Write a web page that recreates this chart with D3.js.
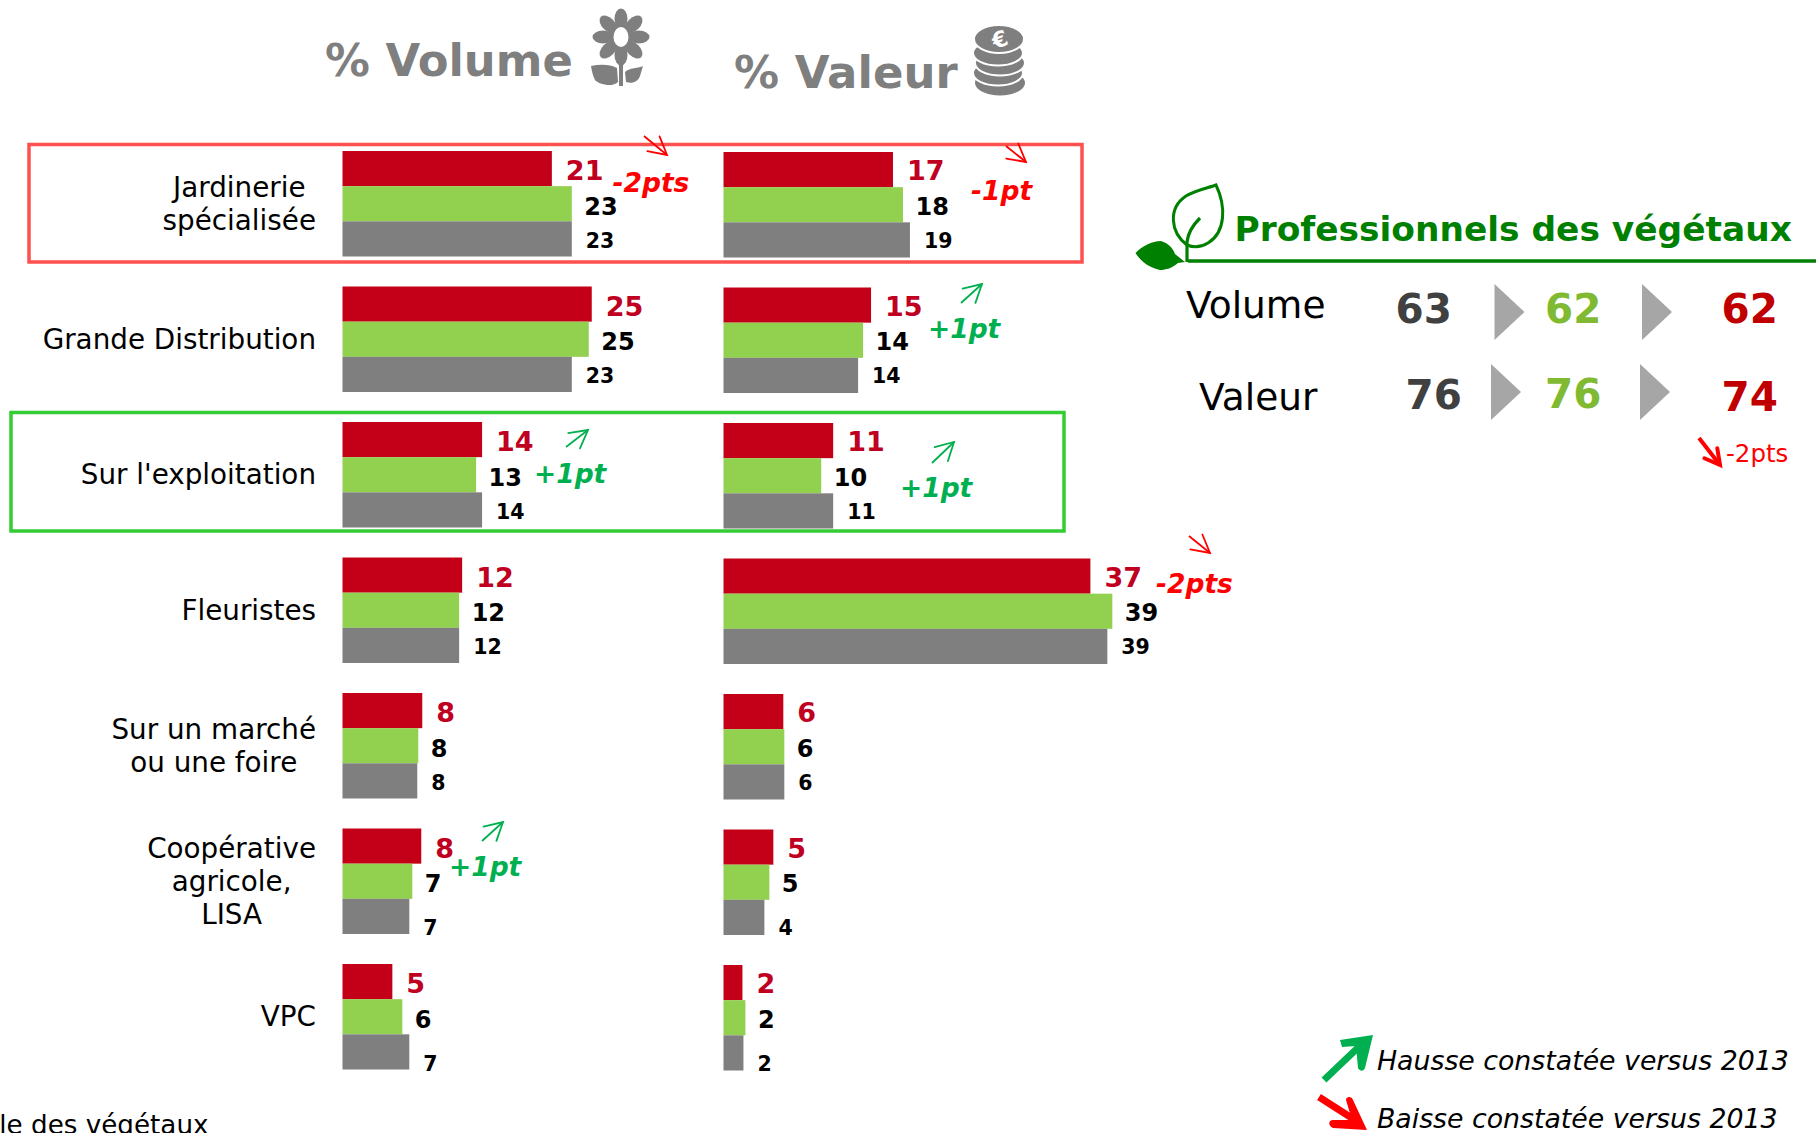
<!DOCTYPE html>
<html><head><meta charset="utf-8">
<style>html,body{margin:0;padding:0;background:#fff;overflow:hidden}svg{display:block;font-family:"DejaVu Sans",sans-serif}</style>
<script src="https://cdn.jsdelivr.net/npm/d3@7/dist/d3.min.js"></script></head>
<body><svg id="c" width="1816" height="1133"></svg>
<script>
// ---- data ----
const categories = ["Jardinerie\nspécialisée","Grande Distribution","Sur l'exploitation","Fleuristes","Sur un marché\nou une foire","Coopérative\nagricole,\nLISA","VPC"];
const seriesKeys = ["2015","2014","2013"];
const volume2015 = [21,25,14,12,8,7.9,5];
const volume2014 = [23,24.7,13.4,11.7,7.6,7,6];
const volume2013 = [23,23,14,11.7,7.5,6.7,6.7];
const valeur2015 = [17,14.8,11,36.8,6,5,1.9];
const valeur2014 = [18,14,9.8,39,6.1,4.6,2.2];
const valeur2013 = [18.7,13.5,11,38.5,6.1,4.1,2];
const panelRows = ["Volume","Valeur"];
const panelVolume = [63,62,62];
const panelValeur = [76,76,74];
const legendLabels = ["Hausse constatée versus 2013","Baisse constatée versus 2013"];

// ---- layout & style ----
const RED="#c30017", GREEN="#92d050", GREY="#7f7f7f", UP="#00b050", DOWN="#ff0000";
const svg=d3.select("#c");
const rowY=d3.scaleBand().domain(categories).range([151,151+6*135.5+105.5]).paddingInner(1-105.5/135.5).paddingOuter(0).align(0);
const serY=d3.scaleBand().domain(seriesKeys).range([0,rowY.bandwidth()]);
const len=d3.scaleLinear().domain([0,10]).range([0,99.7]);
const barColor=d3.scaleOrdinal(seriesKeys,[RED,GREEN,GREY]);
const labelColor=d3.scaleOrdinal(seriesKeys,["#c00020","#000","#000"]);
const labelSize=d3.scaleOrdinal(seriesKeys,[27,24,20.5]);
const labelGap=d3.scaleOrdinal(seriesKeys,[14,12.5,14]);
const labelBase=d3.scaleOrdinal(seriesKeys,[29,63.5,96.5]);
const greyNudge=[0,0,0,0,0,10,10];

function drawColumn(x0,dy,labelDy,series){
  const g=svg.append("g").attr("transform",`translate(${x0},0)`);
  const rows=categories.map((c,i)=>seriesKeys.map((s,k)=>({c,i,s,v:series[k][i]}))).flat();
  g.selectAll("rect").data(rows).join("rect")
    .attr("x",0).attr("y",d=>rowY(d.c)+serY(d.s)+dy)
    .attr("width",d=>len(d.v)).attr("height",serY.bandwidth()).attr("fill",d=>barColor(d.s));
  g.selectAll("text").data(rows).join("text")
    .attr("x",d=>len(d.v)+labelGap(d.s))
    .attr("y",d=>rowY(d.c)+labelBase(d.s)+labelDy+(d.s==="2013"?greyNudge[d.i]:0))
    .attr("font-weight","bold").attr("font-size",d=>labelSize(d.s)).attr("fill",d=>labelColor(d.s))
    .text(d=>Math.round(d.v));
}
drawColumn(342.5,0,0,[volume2015,volume2014,volume2013]);
drawColumn(723.5,1,0.3,[valeur2015,valeur2014,valeur2013]);

// category labels: lines centred, block right-aligned
categories.forEach(c=>{
  const lines=c.split("\n");
  const mid=rowY(c)+rowY.bandwidth()/2+9.5;
  const t=svg.append("g");
  const sel=t.selectAll("text").data(lines).join("text")
    .attr("font-size",27.8).attr("fill","#000").attr("text-anchor","middle")
    .attr("y",(d,i)=>mid+(i-(lines.length-1)/2)*33).text(d=>d);
  const w=d3.max(sel.nodes(),n=>n.getComputedTextLength());
  sel.attr("x",316-w/2);
});

// highlight boxes
svg.append("rect").attr("x",29).attr("y",144.5).attr("width",1053).attr("height",117.5).attr("fill","none").attr("stroke","#ff5050").attr("stroke-width",3.5);
svg.append("rect").attr("x",11).attr("y",412.5).attr("width",1053).attr("height",118.5).attr("fill","none").attr("stroke","#33cc33").attr("stroke-width",3.5);

function arrow(x1,y1,x2,y2,color,w,head){
  const a=Math.atan2(y2-y1,x2-x1),sp=0.5;
  const p=[[x2-head*Math.cos(a-sp),y2-head*Math.sin(a-sp)],[x2,y2],[x2-head*Math.cos(a+sp),y2-head*Math.sin(a+sp)]];
  svg.append("path").attr("d",`M${x1},${y1}L${x2},${y2}`).attr("stroke",color).attr("stroke-width",w).attr("fill","none");
  svg.append("path").attr("d",d3.line()(p)).attr("stroke",color).attr("stroke-width",w).attr("fill","none").attr("stroke-linejoin","miter").attr("stroke-linecap","round");
}
// change annotations
const deltas=[
 ["-2pts",612.5,192,DOWN,[644,136,667,155]],
 ["-1pt",971,200,DOWN,[1006,146,1026,162]],
 ["+1pt",928,338,UP,[961,303,982,284]],
 ["+1pt",534,483,UP,[566,447,588,430]],
 ["+1pt",900,497,UP,[932,463,954,442]],
 ["-2pts",1156,593,DOWN,[1189,536,1210,553]],
 ["+1pt",449,876,UP,[482,841,503,822]]
];
deltas.forEach(([t,x,y,col,a])=>{
  svg.append("text").attr("x",x).attr("y",y).attr("font-size",26.5).attr("font-weight","bold").attr("font-style","italic").attr("fill",col).text(t);
  arrow(a[0],a[1],a[2],a[3],col,1.8,20);
});

// column headings
svg.append("text").attr("x",325).attr("y",76).attr("font-size",44.8).attr("font-weight","bold").attr("fill",GREY).text("% Volume");
svg.append("text").attr("x",734).attr("y",88).attr("font-size",45).attr("font-weight","bold").attr("fill",GREY).text("% Valeur");

// flower icon
const fl=svg.append("g").attr("fill",GREY);
d3.range(8).forEach(i=>fl.append("ellipse").attr("cx",621).attr("cy",19).attr("rx",6.5).attr("ry",10.5).attr("transform",`rotate(${i*45} 621 37)`));
fl.append("circle").attr("cx",621).attr("cy",37).attr("r",12);
fl.append("ellipse").attr("cx",621).attr("cy",37).attr("rx",7.5).attr("ry",10).attr("fill","#fff");
fl.append("rect").attr("x",619).attr("y",50).attr("width",4).attr("height",36);
fl.append("path").attr("d","M591,66C600,64 610,64 617,68L618,82C612,88 598,84 595,80C593,76 592,72 591,66Z");
fl.append("path").attr("d","M643,66C640,68 628,68 625,72L626,82C632,84 638,82 640,76Z");

// coins icon
const coins=svg.append("g");
[[1000,83],[998,73],[1000,63],[998,53],[999,40]].forEach(([x,y],i)=>{
  coins.append("ellipse").attr("cx",x).attr("cy",y-(i==4?1:0)).attr("rx",25).attr("ry",i==4?14:12.5).attr("fill",GREY).attr("stroke","#fff").attr("stroke-width",i?2:0);
});
coins.append("text").attr("x",1000).attr("y",47).attr("text-anchor","middle").attr("font-size",22).attr("font-weight","bold").attr("fill","#fff").attr("transform","rotate(-20 1000 40)").text("€");

// right panel
const DG="#008000";
svg.append("text").attr("x",1234.5).attr("y",241).attr("font-size",34.4).attr("font-weight","bold").attr("fill",DG).text("Professionnels des végétaux");
svg.append("line").attr("x1",1188).attr("x2",1816).attr("y1",261).attr("y2",261).attr("stroke",DG).attr("stroke-width",3.5);
svg.append("path").attr("d","M1187,245C1170,232 1168,208 1186,196C1196,190 1208,188 1216,185C1226,206 1226,232 1208,243C1200,248 1192,247 1187,245Z").attr("fill","none").attr("stroke",DG).attr("stroke-width",3);
svg.append("path").attr("d","M1187,262L1187,242C1188,232 1194,224 1200,218").attr("fill","none").attr("stroke",DG).attr("stroke-width",3.2);
svg.append("path").attr("d","M1135.5,253C1142,246 1152,241 1161,241C1168,243 1173,248 1175,254L1185,262L1178,263C1172,268 1166,270 1160,270C1150,268 1141,262 1135.5,253Z").attr("fill",DG);

svg.selectAll(".pl").data(panelRows).join("text").attr("font-size",37.5).attr("fill","#000")
  .attr("x",(d,i)=>[1186,1199][i]).attr("y",(d,i)=>[318,410][i]).text(d=>d);
const pCols=["#404040","#7fba32","#c00000"];
panelVolume.forEach((v,i)=>svg.append("text").attr("x",[1395.5,1545,1721.5][i]).attr("y",323).attr("font-size",40.5).attr("font-weight","bold").attr("fill",pCols[i]).text(v));
panelValeur.forEach((v,i)=>svg.append("text").attr("x",[1405.5,1545,1721.5][i]).attr("y",[409,408,411][i]).attr("font-size",40.5).attr("font-weight","bold").attr("fill",pCols[i]).text(v));
[[1494.5,284],[1642,284],[1491,364],[1640,364]].forEach(([x,y])=>
  svg.append("path").attr("d",`M${x},${y}L${x+30},${y+28}L${x},${y+56}Z`).attr("fill","#a6a6a6"));
svg.append("text").attr("x",1726).attr("y",461.5).attr("font-size",24.5).attr("fill",DOWN).text("-2pts");
arrow(1699,438,1720,465,DOWN,4,17);

// legend
[[1377,1070],[1377,1128]].forEach(([x,y],i)=>
  svg.append("text").attr("x",x).attr("y",y).attr("font-size",26.75).attr("font-style","italic").attr("fill","#000").text(legendLabels[i]));
const big=(d,c)=>svg.append("path").attr("d",d).attr("fill","none").attr("stroke",c).attr("stroke-width",7);
big("M1324,1080L1366,1040",UP);
svg.append("path").attr("d","M1373,1035L1340,1040L1342,1047L1356,1046L1358,1068C1360,1072 1364,1071 1365,1068Z").attr("fill",UP);
big("M1319,1097L1358,1122",DOWN);
svg.append("path").attr("d","M1367,1130L1333,1128C1328,1126 1328,1120 1333,1120L1352,1120L1346,1100C1346,1096 1352,1096 1353,1100Z").attr("fill",DOWN);

// clipped footer
svg.append("text").attr("x",208.5).attr("y",1133.5).attr("text-anchor","end").attr("font-size",26.2).attr("fill","#000").text("le des végétaux");
</script></body></html>
